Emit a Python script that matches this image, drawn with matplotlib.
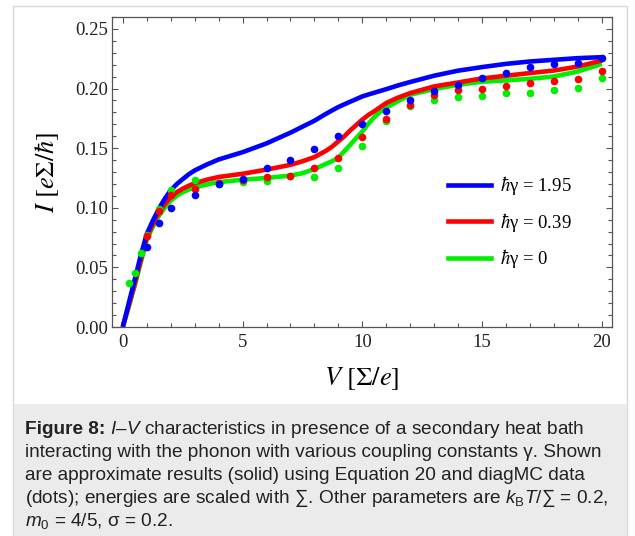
import matplotlib
matplotlib.use("Agg")
import matplotlib.pyplot as plt
from matplotlib.font_manager import FontProperties
from matplotlib.patches import Rectangle
from matplotlib.ticker import MultipleLocator, FormatStrFormatter

plt.rcParams["mathtext.fontset"] = "stix"
plt.rcParams["mathtext.rm"] = "Liberation Sans"
plt.rcParams["mathtext.it"] = "Liberation Sans:italic"
plt.rcParams["mathtext.bf"] = "Liberation Sans:bold"

################################################################
# approximate results (solid lines)
v_line = [0, 0.25, 0.5, 0.75, 1, 1.25, 1.5, 1.75, 2, 2.25, 2.5, 2.75, 3, 3.5, 4, 5, 6, 7,
          7.5, 8, 8.5, 8.75, 9, 9.25, 9.5, 9.75, 10, 10.25, 10.5, 10.75, 11, 11.5, 12, 13,
          14, 15, 16, 17, 18, 19, 20]
i_line_195 = [0, 0.020, 0.040, 0.060, 0.078, 0.089, 0.099, 0.1075, 0.1146, 0.1198, 0.124,
              0.128, 0.1313, 0.1362, 0.1405, 0.1466, 0.154, 0.163, 0.168, 0.173, 0.179,
              0.1818, 0.1845, 0.1868, 0.189, 0.1912, 0.1934, 0.195, 0.1965, 0.198, 0.1995,
              0.2027, 0.2055, 0.2108, 0.215, 0.218, 0.2207, 0.2227, 0.2241, 0.2255, 0.2263]
i_line_039 = [0, 0.018, 0.036, 0.056, 0.075, 0.086, 0.096, 0.103, 0.109, 0.113, 0.116,
              0.1185, 0.1205, 0.1235, 0.1258, 0.1285, 0.132, 0.136, 0.139, 0.1425, 0.148,
              0.1515, 0.1558, 0.160, 0.165, 0.1695, 0.174, 0.1778, 0.181, 0.1845, 0.1879,
              0.1925, 0.1962, 0.2018, 0.2051, 0.2085, 0.2107, 0.213, 0.2151, 0.2185, 0.2235]
i_line_0 = [0, 0.017, 0.035, 0.054, 0.073, 0.084, 0.093, 0.100, 0.106, 0.110, 0.113,
            0.1153, 0.117, 0.1195, 0.1215, 0.1235, 0.125, 0.127, 0.129, 0.1325, 0.137,
            0.1392, 0.142, 0.1475, 0.153, 0.1585, 0.164, 0.1705, 0.176, 0.1805, 0.184,
            0.1895, 0.1948, 0.1996, 0.2032, 0.2057, 0.2068, 0.2082, 0.2101, 0.2143, 0.2207]

# diagMC data (dots)
v_dot_195 = [1, 1.5, 2, 3, 4, 5, 6, 7, 8, 9, 10, 11, 12, 13, 14, 15, 16, 17, 18, 19, 20]
i_dot_195 = [0.0675, 0.087, 0.100, 0.111, 0.1196, 0.1243, 0.133, 0.140, 0.149, 0.160, 0.170,
             0.181, 0.190, 0.198, 0.203, 0.2088, 0.2127, 0.218, 0.2207, 0.2218, 0.2258]
v_dot_039 = [1, 1.5, 2, 3, 4, 5, 6, 7, 8, 9, 10, 11, 12, 13, 14, 15, 16, 17, 18, 19, 20]
i_dot_039 = [0.076, 0.097, 0.1106, 0.116, 0.121, 0.123, 0.1254, 0.127, 0.1333, 0.142, 0.159,
             0.1747, 0.1865, 0.1948, 0.199, 0.1998, 0.2018, 0.2048, 0.206, 0.2076, 0.2146]
v_dot_0 = [0.25, 0.5, 0.75, 1, 1.5, 2, 3, 4, 5, 6, 7, 8, 9, 10, 11, 12, 13, 14, 15, 16, 17,
           18, 19, 20]
i_dot_0 = [0.037, 0.045, 0.062, 0.077, 0.099, 0.115, 0.1235, 0.120, 0.1215, 0.1223, 0.1265,
           0.126, 0.1332, 0.152, 0.1725, 0.185, 0.1906, 0.1929, 0.194, 0.196, 0.196, 0.1987,
           0.2007, 0.2087]

series = [
    ("0", v_line, i_line_0, v_dot_0, i_dot_0, "#00ee00"),
    ("0.39", v_line, i_line_039, v_dot_039, i_dot_039, "#ff0000"),
    ("1.95", v_line, i_line_195, v_dot_195, i_dot_195, "#0000ff"),
]

caption_lines = [
    r" $I$–$V$ characteristics in presence of a secondary heat bath",
    r"interacting with the phonon with various coupling constants γ. Shown",
    r"are approximate results (solid) using Equation 20 and diagMC data",
    r"(dots); energies are scaled with ∑. Other parameters are $k_\mathrm{B}T$/∑ = 0.2,",
    r"$m_0$ = 4/5, σ = 0.2.",
]
################################################################
W, H = 635, 536
fig = plt.figure(figsize=(W / 100, H / 100), dpi=100)

# card outline and caption background
fig.patches.append(Rectangle((13 / W, -0.01), 614 / W, (H - 6) / H + 0.01,
                             transform=fig.transFigure, facecolor="white",
                             edgecolor="#d8d8d8", lw=1, zorder=-10))
fig.patches.append(Rectangle((13.5 / W, 0), 613 / W, (H - 404) / H,
                             transform=fig.transFigure, facecolor="#ebebeb",
                             edgecolor="none", zorder=-9))

ax = fig.add_axes([112 / W, 1 - 327 / H, 500 / W, 310 / H])
serif = "Liberation Serif"
for name, xs, ys, xd, yd, c in series:
    ax.plot(xs, ys, color=c, lw=3.3, solid_capstyle="butt", solid_joinstyle="round",
            zorder=2)
for name, xs, ys, xd, yd, c in series:
    ax.plot(xd, yd, ls="none", marker="o", ms=5.5, color=c, mec="none", zorder=3)

handles = [plt.Line2D([], [], color=c, lw=3.3) for name, *_, c in series[::-1]]
labels = [r"$\hbar$γ = " + name for name, *_ in series[::-1]]
ax.legend(handles, labels, loc="upper left", bbox_to_anchor=(0.672, 0.492),
          frameon=False, borderpad=0, borderaxespad=0, handlelength=2.3,
          handletextpad=0.5, labelspacing=0.72,
          prop=FontProperties(family=serif, size=13.5, math_fontfamily="stix"))

ax.set_xlim(-0.45, 20.42)
ax.set_ylim(0, 0.26)
ax.xaxis.set_major_locator(MultipleLocator(5))
ax.xaxis.set_minor_locator(MultipleLocator(1))
ax.yaxis.set_major_locator(MultipleLocator(0.05))
ax.yaxis.set_minor_locator(MultipleLocator(0.01))
ax.yaxis.set_major_formatter(FormatStrFormatter("%.2f"))
ax.tick_params(which="both", direction="in", top=True, right=True, color="#555555",
               width=0.8, labelsize=13.5, labelcolor="#222222")
ax.tick_params(which="major", length=4.5)
ax.tick_params(which="minor", length=2.6)
ax.tick_params(axis="x", pad=5)
ax.tick_params(axis="y", pad=3)
for lab in ax.get_xticklabels() + ax.get_yticklabels():
    lab.set_fontfamily(serif)
for sp in ax.spines.values():
    sp.set_color("#555555")
    sp.set_linewidth(0.9)

ax.set_xlabel(r"$V\ [\Sigma/e]$", fontsize=19, labelpad=10.5, math_fontfamily="stix")
ax.set_ylabel(r"$I\ [e\Sigma/\hbar]$", fontsize=19, labelpad=10, math_fontfamily="stix")

# caption
cap_font = ["Liberation Sans", "DejaVu Sans"]
cap_size = 13.7
x0 = 25 / W
baselines = [434, 457, 480, 503, 526]
first = fig.text(x0, 1 - baselines[0] / H, "Figure 8:", family=cap_font, weight="bold",
                 fontsize=cap_size, color="#222222", va="baseline")
fig.add_artist(plt.Annotation(caption_lines[0], xy=(1, 1 - baselines[0] / H),
                              xycoords=(first, "figure fraction"), va="baseline",
                              ha="left", family=cap_font, fontsize=cap_size,
                              color="#222222", math_fontfamily="custom"))
for k, line in enumerate(caption_lines[1:], start=1):
    fig.text(x0, 1 - baselines[k] / H, line, family=cap_font, fontsize=cap_size,
             color="#222222", va="baseline", math_fontfamily="custom")

fig.savefig("out.png", dpi=100)
